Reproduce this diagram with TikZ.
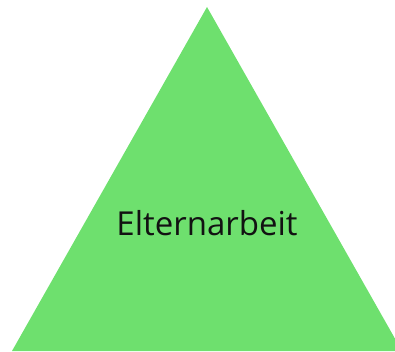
\documentclass[tikz,border=0pt]{standalone}
\usepackage{fontspec}
\setmainfont{Open Sans}
\definecolor{pyramidgreen}{RGB}{110,224,110}

\begin{document}
\begin{tikzpicture}[x=1pt,y=1pt]
\tikzstyle{layer}=[fill=pyramidgreen,draw=none]
\tikzstyle{label}=[inner sep=0pt,outer sep=0pt,anchor=base,text=black!93]

	\useasboundingbox (0,0) rectangle (395,351);
	\clip (0,0) rectangle (395,351);

	\fill [layer] (12,0) -- (207,344) -- (402,0) -- cycle;

	\node (elternarbeit) [label,font=\fontsize{33}{39}\selectfont] at (207,116) {Elternarbeit};

\end{tikzpicture}
\end{document}
